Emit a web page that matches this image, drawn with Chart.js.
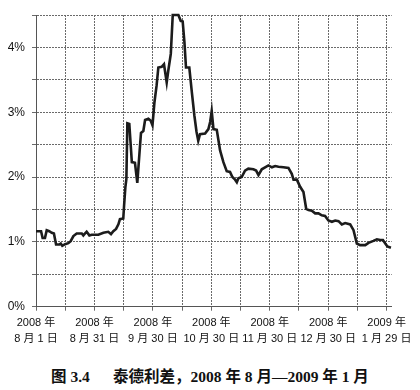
<!DOCTYPE html>
<html>
<head>
<meta charset="utf-8">
<script src="https://cdn.jsdelivr.net/npm/chart.js@4"></script>
<style>
  html, body { margin: 0; padding: 0; background: #fff; }
  #wrap { position: relative; width: 420px; height: 366px; }
  #title { width: 420px; height: 22px; line-height: 22px; text-align: center;
           font-family: "Liberation Serif", "Noto Sans CJK SC", serif; font-weight: bold;
           font-size: 15.5px; color: #111; white-space: pre; }
</style>
</head>
<body>
<div id="wrap"><canvas id="c" width="420" height="366"></canvas></div>
<div id="title">图 3.4　  泰德利差，2008 年 8 月—2009 年 1 月</div>
<script>
// Days since 2008-08-01
const days = [0, 2.6, 3.4, 4.6, 5.5, 6.8, 8.1, 9.2, 10.3, 12.0, 12.7, 13.5, 14.9, 16.6, 17.8, 19.2, 20.9,
  23.5, 24.3, 25.2, 26.0, 27.4, 28.6, 32.0, 34.6, 37.1, 38.5, 39.7, 41.1, 42.3, 43.1, 44.8,
  45.2, 45.9, 46.4, 46.9, 47.9, 49.2, 50.8, 52.0, 53.1, 53.9, 55.1, 56.0, 57.7, 58.9, 59.8,
  60.8, 61.9, 62.8, 64.5, 65.7, 67.1, 67.9, 69.2, 70.2, 73.1, 74.3, 75.3, 76.2, 77.0, 78.7,
  80.0, 81.3, 82.4, 83.3, 84.2, 86.8, 88.5, 89.4, 90.2, 91.1, 92.8, 94.5, 96.2, 97.9, 99.6,
  100.8, 102.2, 103.1, 103.9, 105.6, 107.3, 109.0, 111.6, 113.0, 114.2, 115.9, 117.6, 119.3,
  121.1, 122.8, 124.5, 127.0, 129.6, 131.3, 132.2, 133.9, 135.6, 137.3, 138.7, 139.9, 141.6,
  143.3, 145.0, 146.7, 148.4, 150.1, 151.9, 153.6, 155.3, 157.0, 158.7, 161.3, 163.0, 164.7,
  166.4, 169.0, 170.7, 173.2, 175.0, 176.7, 178.1, 179.3, 180.4, 182.2];
// TED spread, percent
const tedSpread = [1.165, 1.165, 1.06, 1.06, 1.18, 1.165, 1.14, 1.13, 0.96, 0.96, 0.975, 0.94, 0.965, 0.98, 1.01, 1.09, 1.13,
  1.13, 1.10, 1.13, 1.155, 1.10, 1.11, 1.11, 1.14, 1.155, 1.12, 1.165, 1.20, 1.27, 1.35, 1.36,
  1.55, 1.85, 1.97, 2.83, 2.82, 2.23, 2.22, 1.91, 2.36, 2.68, 2.71, 2.88, 2.90, 2.87, 2.80,
  3.15, 3.41, 3.69, 3.70, 3.74, 3.46, 3.64, 3.90, 4.50, 4.50, 4.41, 4.40, 4.08, 3.69, 3.69,
  3.31, 2.95, 2.70, 2.56, 2.66, 2.67, 2.74, 2.85, 3.02, 2.74, 2.73, 2.41, 2.23, 2.09, 2.08,
  2.00, 1.96, 1.92, 1.98, 2.00, 2.10, 2.13, 2.12, 2.10, 2.03, 2.12, 2.15, 2.18,
  2.15, 2.17, 2.16, 2.15, 2.14, 2.05, 1.96, 1.96, 1.85, 1.77, 1.51, 1.49, 1.48,
  1.44, 1.44, 1.41, 1.40, 1.33, 1.31, 1.33, 1.32, 1.27, 1.29, 1.27, 1.18, 0.975,
  0.95, 0.95, 0.985, 1.015, 1.04, 1.03, 1.03, 0.975, 0.93, 0.91];

const xLabelDays = [0, 30, 60, 90, 120, 150, 180];
const xLabels = [
  ["2008 年", "8 月 1 日"],
  ["2008 年", "8 月 31 日"],
  ["2008 年", "9 月 30 日"],
  ["2008 年", "10 月 30 日"],
  ["2008 年", "11 月 30 日"],
  ["2008 年", "12 月 30 日"],
  ["2009 年", "1 月 29 日"]
];
const xGridStep = 15;
const yMin = 0, yMax = 4.5, yStep = 0.5;

const points = days.map((d, i) => ({ x: d, y: tedSpread[i] }));
const gridColor = '#6a6a6a';
const fontFamily = '"Liberation Sans", Arial, "Noto Sans CJK SC", sans-serif';

new Chart(document.getElementById('c'), {
  type: 'line',
  data: {
    datasets: [{
      data: points,
      borderColor: '#1c1c1c',
      borderWidth: 2.6,
      pointRadius: 0,
      tension: 0,
      fill: false,
      clip: 6
    }]
  },
  options: {
    responsive: false,
    animation: false,
    events: [],
    layout: { padding: { top: 15, right: 28.3, left: 0, bottom: 0 } },
    plugins: { legend: { display: false }, tooltip: { enabled: false }, title: { display: false } },
    scales: {
      x: {
        type: 'linear',
        min: 0,
        max: 182.6,
        afterBuildTicks: (scale) => {
          const t = [];
          for (let v = 0; v <= 180; v += xGridStep) t.push({ value: v });
          scale.ticks = t;
        },
        afterFit: (scale) => { scale.height = 59.3; },
        grid: { color: gridColor, lineWidth: 1, tickLength: 4, drawTicks: true },
        border: { display: true, color: '#555', width: 1, dash: [2, 1] },
        ticks: {
          autoSkip: false,
          maxRotation: 0,
          padding: 4,
          color: '#111',
          font: { family: fontFamily, size: 11, lineHeight: 1.5 },
          callback: (v) => {
            const i = xLabelDays.indexOf(v);
            return i >= 0 ? xLabels[i] : '';
          }
        }
      },
      y: {
        min: yMin,
        max: yMax,
        afterFit: (scale) => { scale.width = 36; },
        grid: { color: gridColor, lineWidth: 1, tickLength: 4, drawTicks: true },
        border: { display: true, color: '#555', width: 1, dash: [2, 1] },
        ticks: {
          stepSize: yStep,
          padding: 7,
          color: '#111',
          font: { family: fontFamily, size: 12 },
          callback: (v) => (Math.abs(v - Math.round(v)) < 1e-9 ? Math.round(v) + '%' : '')
        }
      }
    }
  }
});
</script>
</body>
</html>
